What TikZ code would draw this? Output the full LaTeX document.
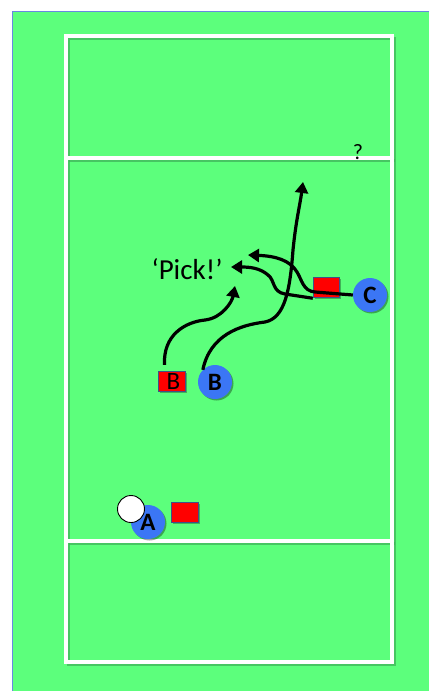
\documentclass[tikz,border=0pt]{standalone}
\usepackage{fontspec}
\setmainfont{Carlito}
\usetikzlibrary{arrows.meta,shadows}
\definecolor{field}{RGB}{92,255,124}
\definecolor{fieldshade}{RGB}{62,175,88}
\definecolor{edge}{RGB}{105,135,225}
\definecolor{pblue}{RGB}{59,118,245}
\definecolor{dred}{RGB}{255,0,0}
\tikzset{
  courtline/.style={white,line width=3.5pt},
  courtshade/.style={fieldshade,line width=3pt,opacity=0.7},
  player/.style={circle,fill=pblue,minimum size=34pt,inner sep=0pt,font=\fontsize{25}{25}\selectfont\bfseries,
    drop shadow={shadow xshift=1.5pt,shadow yshift=-1.5pt,opacity=0.35,fill=black}},
  ballnode/.style={circle,fill=white,draw=black,line width=0.9pt,minimum size=27pt,inner sep=0pt},
  defender/.style={rectangle,fill=dred,draw=edge!60!black,line width=0.5pt,minimum width=27pt,minimum height=20pt,inner sep=0pt,
    drop shadow={shadow xshift=1.5pt,shadow yshift=-1.5pt,opacity=0.3,fill=black}},
  run/.style={line width=3.2pt,black,-{Triangle[length=11pt,width=13pt]}},
}
\begin{document}
\begin{tikzpicture}[x=1pt,y=-1pt]
\useasboundingbox (0,0) rectangle (429,691);
\fill[white] (0,0) rectangle (429,691);
\fill[field] (12,11) rectangle (429,691);
\draw[edge,line width=1pt] (12,691) -- (12,11) -- (429,11);
% court shadow
\draw[courtshade] (68.5,38.5) rectangle (394.5,664.5);
\draw[courtshade] (68.5,160.5) -- (394.5,160.5);
\draw[courtshade] (68.5,543.5) -- (394.5,543.5);
% court lines
\draw[courtline] (66,36) rectangle (392,662);
\draw[courtline] (66,158) -- (392,158);
\draw[courtline] (66,541) -- (392,541);
% players
\node[player] (A) at (148,522) {A};
\node[ballnode] (ball) at (131,509) {};
\node[defender] (dA) at (184.5,512) {};
\node[defender,text height=12pt,font=\fontsize{25}{25}\selectfont] (dB) at (171.5,381) {\raisebox{-4pt}{\hspace{4pt}B}};
\node[player] (B) at (215,382) {B};
\node[defender,minimum width=26pt] (dC) at (326,287) {};
\node[player] (C) at (370,295) {C};
% labels
\node[font=\fontsize{29}{29}\selectfont] (pick) at (187,269) {‘Pick!’};
\node[font=\fontsize{22}{22}\selectfont] (q) at (358,152) {?};
% runs
\coordinate (t1) at (235,286);
\coordinate (t2) at (303,182);
\coordinate (t3) at (248,255);
\coordinate (t4) at (231,267);
\draw[run] ([xshift=-7pt,yshift=6pt]dB.north) .. controls (163,335) and (185,322) .. (205,320) .. controls (222,318) and (232,302) .. (t1);
\draw[run] (B.north west) .. controls (210,335) and (240,325) .. (265,322) .. controls (285,318) and (290,290) .. (293,250) .. controls (296,220) and (300,205) .. (t2);
\draw[run] (C.west) -- (315,292) .. controls (303,291) and (302,280) .. (297,272) .. controls (290,260) and (275,256) .. (t3);
\draw[run] ([yshift=-1pt]dC.south west) -- (285,294) .. controls (272,292) and (275,280) .. (268,275) .. controls (260,268) and (250,267) .. (t4);
\end{tikzpicture}
\end{document}
